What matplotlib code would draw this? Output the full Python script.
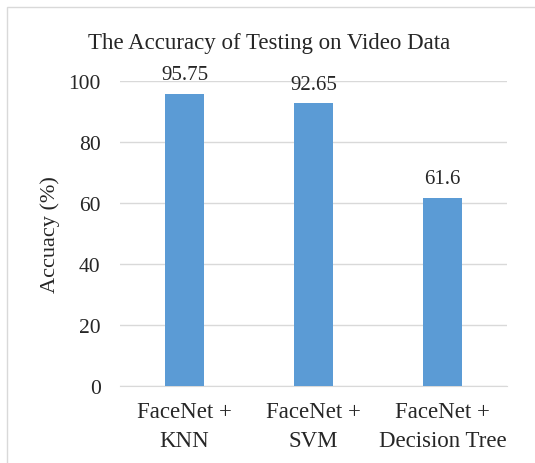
import matplotlib.pyplot as plt
from matplotlib.patches import Rectangle

categories = ["FaceNet +\nKNN", "FaceNet +\nSVM", "FaceNet +\nDecision Tree"]
accuracy = [95.75, 92.65, 61.6]
value_labels = ["95.75", "92.65", "61.6"]
y_ticks = [0, 20, 40, 60, 80, 100]

TEXT = "#262626"


def main() -> None:
    plt.rcParams["font.family"] = ["Liberation Serif", "DejaVu Serif"]
    fig = plt.figure(figsize=(5.35, 4.64), dpi=100)
    ax = fig.add_axes([120 / 535, 1 - 387 / 464, 387 / 535, 305 / 464])

    # chart frame like an Excel chart area (cropped right / bottom)
    fig.patches.append(Rectangle((7 / 535, -0.01), 1.0, 1 - 8 / 464 + 0.01,
                                 transform=fig.transFigure, fill=False,
                                 edgecolor="#d9d9d9", linewidth=1.0))

    x = range(len(categories))
    bars = ax.bar(x, accuracy, width=0.31, color="#5b9bd5", zorder=3)
    for bar, label in zip(bars, value_labels):
        ax.annotate(label, (bar.get_x() + bar.get_width() / 2, bar.get_height()),
                    xytext=(0, 7), textcoords="offset points", ha="center",
                    va="bottom", fontsize=15, color=TEXT)

    ax.set_xlim(-0.5, len(categories) - 0.5)
    ax.set_ylim(0, 100)
    ax.set_yticks(y_ticks)
    ax.set_xticks(list(x))
    ax.set_xticklabels(categories, fontsize=16.5, color=TEXT, linespacing=1.5)
    ax.tick_params(axis="y", labelsize=15.5, labelcolor=TEXT, length=0, pad=14)
    ax.tick_params(axis="x", length=0, pad=11)
    ax.grid(axis="y", color="#d9d9d9", linewidth=1.0, zorder=0)
    for side in ["top", "right", "left"]:
        ax.spines[side].set_visible(False)
    ax.spines["bottom"].set_color("#d9d9d9")
    ax.set_ylabel("Accuacy (%)", fontsize=16, color=TEXT, labelpad=6)
    fig.text(269 / 535, 1 - 43 / 464, "The Accuracy of Testing on Video Data",
             ha="center", va="center", fontsize=16.5, color=TEXT)

    fig.savefig("out.png", dpi=100)


if __name__ == "__main__":
    main()
